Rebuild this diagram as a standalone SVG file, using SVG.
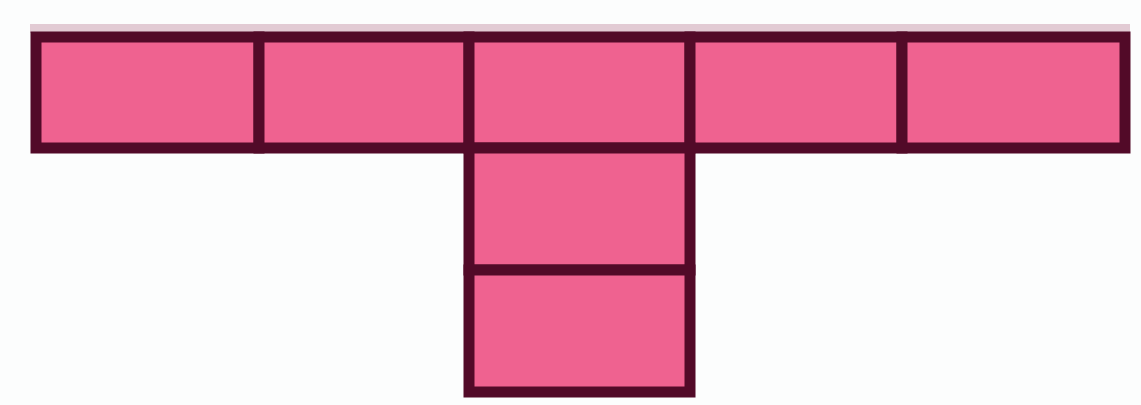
<svg xmlns="http://www.w3.org/2000/svg" width="1141" height="405" viewBox="0 0 1141 405">
<style>
.cell{fill:#ef6290;stroke:#520a28;stroke-width:11}
.shade{fill:#c48ea2;opacity:0.45}
</style>
<rect width="1141" height="405" fill="#fcfdfd"/>
<rect class="shade" x="30" y="24" width="1100" height="9"/>
<g id="cell1"><rect class="cell" x="36" y="37" width="223" height="111"/></g>
<g id="cell2"><rect class="cell" x="259" y="37" width="210" height="111"/></g>
<g id="cell3"><rect class="cell" x="469" y="37" width="221" height="111"/></g>
<g id="cell4"><rect class="cell" x="690" y="37" width="212" height="111"/></g>
<g id="cell5"><rect class="cell" x="902" y="37" width="223" height="111"/></g>
<g id="cell6"><rect class="cell" x="469" y="148" width="221" height="122"/></g>
<g id="cell7"><rect class="cell" x="469" y="270" width="221" height="122"/></g>
<g id="connectors"></g>
</svg>
